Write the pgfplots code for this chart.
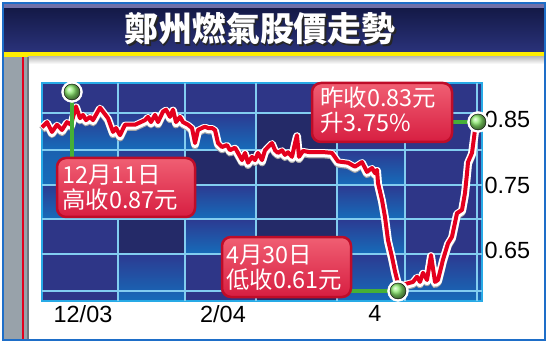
\documentclass[border=0pt]{standalone}
\usepackage{pgfplots}
\pgfplotsset{compat=1.18}
\usepackage{pgfplotstable}
\usepackage{fontspec}
\setmainfont{Liberation Sans}
\newfontfamily\cjk{Noto Sans CJK TC}
\definecolor{navy}{RGB}{46,54,135}
\definecolor{darknavy}{RGB}{36,42,104}
\definecolor{cellblue}{RGB}{22,108,186}
\definecolor{cellnavy}{RGB}{44,58,145}
\definecolor{gridcol}{RGB}{130,205,240}
\definecolor{bordercol}{RGB}{40,170,230}
\definecolor{linered}{RGB}{228,0,30}
\definecolor{ballgreen}{RGB}{140,235,110}
\definecolor{stemgreen}{RGB}{70,175,55}
\definecolor{boxtop}{RGB}{240,95,115}
\definecolor{boxbot}{RGB}{215,30,65}
\definecolor{boxborder}{RGB}{190,12,40}
\definecolor{titletop}{RGB}{20,26,72}
\definecolor{titlebot}{RGB}{42,50,122}
\definecolor{titlestrip}{RGB}{112,112,168}
\definecolor{framecol}{RGB}{30,110,200}
\definecolor{stripgray}{RGB}{152,162,170}
\definecolor{stripdark}{RGB}{110,120,128}
\pgfplotstableread{
x v
42 0.838
47 0.846
52 0.831
57 0.842
62 0.834
67 0.846
71 0.842
76 0.870
80 0.852
83 0.857
86 0.849
90 0.854
93 0.849
100 0.868
103 0.862
108 0.852
113 0.831
116 0.837
120 0.826
125 0.842
135 0.842
145 0.849
148 0.854
151 0.846
155 0.857
158 0.846
163 0.862
166 0.865
170 0.854
173 0.865
176 0.846
180 0.854
183 0.846
188 0.842
192 0.837
195 0.814
198 0.834
202 0.837
205 0.839
208 0.837
212 0.837
215 0.834
218 0.814
222 0.808
227 0.811
230 0.803
235 0.807
238 0.799
242 0.788
245 0.799
248 0.784
252 0.793
255 0.788
258 0.799
262 0.788
265 0.803
268 0.808
272 0.814
275 0.803
278 0.799
282 0.803
285 0.796
288 0.800
292 0.793
295 0.814
297 0.826
299 0.793
303 0.802
310 0.800
325 0.800
332 0.799
338 0.786
348 0.784
355 0.778
362 0.785
367 0.770
372 0.776
375 0.768
377 0.773
378 0.753
382 0.727
385 0.701
388 0.666
392 0.640
395 0.618
398 0.600
402 0.597
408 0.600
413 0.602
417 0.610
420 0.602
423 0.616
427 0.605
431 0.643
435 0.602
438 0.605
443 0.636
448 0.661
452 0.671
457 0.707
462 0.712
465 0.738
467 0.768
468 0.785
472 0.799
475 0.834
478 0.842
}\pricedata
\begin{document}
\begin{tikzpicture}[x=1bp,y=1bp]
\path[use as bounding box] (0,0) rectangle (550,345);
\begin{scope}[yshift=345bp, y=-1bp]
% page background
\fill[white] (0,0) rectangle (550,345);
% title strip and bar
\fill[titlestrip] (3,3) rectangle (545,9);
\shade[top color=titletop, bottom color=titlebot] (3,9) rectangle (545,52);
\fill[yellow!95!orange] (3,52) rectangle (545,57);
\shade[top color=black!25, bottom color=white] (28,57) rectangle (545,64);
% left strip
\fill[stripgray] (3,57) rectangle (28,340);
\draw[linered, line width=2bp] (22.5,57) -- (22.5,340);
\draw[stripdark, line width=2bp] (28,57) -- (28,340);
% outer frame
\draw[framecol, line width=1.5bp] (3,3) rectangle (545,340);
% title
\node[font=\cjk\bfseries\fontsize{34}{36}\selectfont, text=black!85] at (261.5,30.5) {鄭州燃氣股價走勢};
\node[font=\cjk\bfseries\fontsize{34}{36}\selectfont, text=white] at (260,29) {鄭州燃氣股價走勢};
% plot background patchwork
\fill[navy] (42,83) rectangle (482,301);
\fill[darknavy] (256,113) rectangle (337,301);
\fill[darknavy] (185,150) rectangle (256,185);
\fill[darknavy] (118,185) rectangle (185,254);
\shade[top color=cellnavy, bottom color=cellblue] (42,113) rectangle (118,150);
\shade[top color=cellblue!80!navy, bottom color=cellblue] (42,150) rectangle (118,185);
\shade[top color=cellnavy, bottom color=cellblue] (42,185) rectangle (118,219);
\shade[top color=cellnavy, bottom color=cellblue] (118,113) rectangle (185,150);
\shade[top color=cellnavy, bottom color=cellblue] (118,150) rectangle (185,185);
\shade[top color=cellnavy, bottom color=cellblue] (118,254) rectangle (185,301);
\shade[top color=cellnavy, bottom color=cellblue] (185,113) rectangle (256,150);
\shade[top color=cellnavy, bottom color=cellblue] (185,185) rectangle (256,219);
\shade[top color=cellnavy, bottom color=cellblue] (185,219) rectangle (256,254);
\shade[top color=cellnavy, bottom color=cellblue] (337,150) rectangle (405,185);
\shade[top color=cellnavy, bottom color=cellblue] (337,185) rectangle (405,219);
\shade[top color=cellnavy, bottom color=cellblue] (337,219) rectangle (405,254);
\shade[top color=cellnavy, bottom color=cellblue] (337,254) rectangle (405,301);
\shade[top color=cellnavy, bottom color=cellblue] (405,254) rectangle (482,301);
\end{scope}
\begin{axis}[
  at={(42bp,44bp)}, anchor=south west,
  scale only axis, width=440bp, height=218bp,
  xmin=42, xmax=482, ymin=0.5729, ymax=0.9057,
  axis line style={draw=bordercol, line width=2bp},
  xtick={83,223,375}, xticklabels={12/03,2/04,4},
  ytick={0.65,0.75,0.85}, yticklabels={0.65,0.75,0.85},
  yticklabel pos=right,
  major tick length=0,
  tick label style={font=\fontsize{23.5}{25}\selectfont, text=black},
  xticklabel style={yshift=-1bp},
  yticklabel style={xshift=-1bp},
  extra x ticks={118,185,256,337,405,477}, extra x tick labels={},
  extra y ticks={0.5882,0.6447,0.6981,0.75,0.8034,0.8599}, extra y tick labels={},
  extra tick style={grid=major, major grid style={gridcol, line width=2bp}, major tick length=0},
  clip=false,
]
\addplot[black!35, line width=7.5bp, yshift=-2.5bp, line join=round] table[x=x,y=v] {\pricedata};
\addplot[white, line width=8bp, yshift=-1bp, line join=round] table[x=x,y=v] {\pricedata};
\addplot[linered, line width=4bp, line join=round] table[x=x,y=v] {\pricedata};
\addplot[stemgreen, line width=3.5bp, forget plot] coordinates {(72,0.892) (72,0.7912)};
\addplot[stemgreen, line width=3.5bp] coordinates {(351,0.5882) (398,0.5882)};
\addplot[stemgreen, line width=3.5bp] coordinates {(452,0.8462) (478,0.8462)};
\addplot[only marks, mark=*, mark size=10.5bp, mark options={draw=white, fill=white}] coordinates {(72,0.892) (398,0.5882) (478,0.8462)};
\addplot[only marks, mark=ball, mark size=8bp, mark options={ball color=ballgreen}] coordinates {(72,0.892) (398,0.5882) (478,0.8462)};
\end{axis}
\begin{scope}[yshift=345bp, y=-1bp]
% callout boxes
\tikzset{boxtxt/.style={anchor=west, text=white, font=\cjk\fontsize{23.5}{25}\selectfont, inner sep=0pt}}
\shadedraw[draw=boxborder, line width=2.5bp, top color=boxtop, bottom color=boxbot, rounded corners=9bp] (57,158) rectangle (195,217);
\node[boxtxt] at (62,175) {12月11日};
\node[boxtxt] at (62,200) {高收0.87元};
\shadedraw[draw=boxborder, line width=2.5bp, top color=boxtop, bottom color=boxbot, rounded corners=9bp] (222,237) rectangle (351,297);
\node[boxtxt] at (226,255) {4月30日};
\node[boxtxt] at (226,280) {低收0.61元};
\shadedraw[draw=boxborder, line width=2.5bp, top color=boxtop, bottom color=boxbot, rounded corners=9bp] (312,83) rectangle (452,142);
\node[boxtxt] at (320,98) {昨收0.83元};
\node[boxtxt] at (320,123) {升3.75\%};
\end{scope}
\end{tikzpicture}
\end{document}
